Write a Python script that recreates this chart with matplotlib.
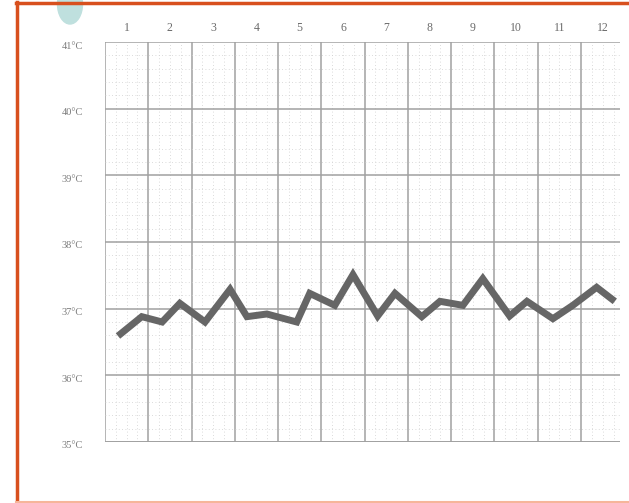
import matplotlib.pyplot as plt
from matplotlib.lines import Line2D
from matplotlib.patches import Ellipse
import numpy as np

# Data: temperature chart, 12 columns, two readings per column
days = [1, 2, 3, 4, 5, 6, 7, 8, 9, 10, 11, 12]
temp_levels = [35, 36, 37, 38, 39, 40, 41]
temp_labels = ['35°C', '36°C', '37°C', '38°C', '39°C', '40°C', '41°C']
times = [0.80, 1.35, 1.82, 2.23, 2.81, 3.39, 3.78, 4.24, 4.93, 5.23, 5.81, 6.23,
         6.80, 7.20, 7.82, 8.24, 8.77, 9.23, 9.85, 10.25, 10.85, 11.31, 11.86, 12.28]
temps = [36.59, 36.88, 36.80, 37.08, 36.80, 37.29, 36.88, 36.92, 36.80, 37.23, 37.05, 37.51,
         36.89, 37.23, 36.88, 37.11, 37.05, 37.45, 36.89, 37.11, 36.85, 37.05, 37.32, 37.11]

fig = plt.figure(figsize=(6.29, 5.03), dpi=100)
ax = fig.add_axes([105 / 629, 1 - 442 / 503, 515 / 629, 400 / 503])

ax.set_xlim(0.5, 12.4)
ax.set_ylim(35, 41)

# major grid: column borders and whole degrees
ax.set_xticks(np.arange(0.5, 12.5, 1.0))
ax.set_xticks(np.arange(0.75, 12.4, 0.25), minor=True)
ax.set_yticks(temp_levels)
ax.set_yticks(np.arange(35.2, 41, 0.2), minor=True)
ax.grid(True, which='major', color='#a0a0a0', linewidth=1.1)
ax.grid(True, which='minor', color='#cfcfcf', linewidth=0.6, linestyle=(0, (1, 3)))
ax.set_xticklabels([])
ax.set_yticklabels([])
ax.tick_params(which='both', length=0)
for s in ['top', 'right', 'bottom', 'left']:
    ax.spines[s].set_visible(False)
ax.axhline(35, color='#a0a0a0', linewidth=1.3)

# labels
for d in days:
    ax.text(d, 41.12, str(d), ha='center', va='bottom', fontsize=8.5,
            family='Liberation Serif', color='#6a6a6a')
for lv, lb in zip(temp_levels, temp_labels):
    ax.text(-0.25, lv - 0.06, lb, ha='center', va='center', fontsize=7.5,
            family='Liberation Serif', color='#7a7a7a')

ax.plot(times, temps, color='#666666', linewidth=5, solid_joinstyle='miter',
        solid_capstyle='butt', zorder=5)

# decorations: page border and teal blob
fig.add_artist(Ellipse((70 / 629, 1 - 4 / 503), 25 / 629, 40 / 503,
                       transform=fig.transFigure, color='#bfe0de', zorder=0))
fig.add_artist(Line2D([17 / 629, 17 / 629], [0, 1 - 2 / 503], transform=fig.transFigure,
                      color='#d8501e', linewidth=2.5))
fig.add_artist(Line2D([16 / 629, 1], [1 - 2.5 / 503, 1 - 2.5 / 503], transform=fig.transFigure,
                      color='#d8501e', linewidth=2.5))
fig.add_artist(Line2D([16 / 629, 1], [1.2 / 503, 1.2 / 503], transform=fig.transFigure,
                      color='#f6b59a', linewidth=1.5))

fig.savefig('out.png', dpi=100)
